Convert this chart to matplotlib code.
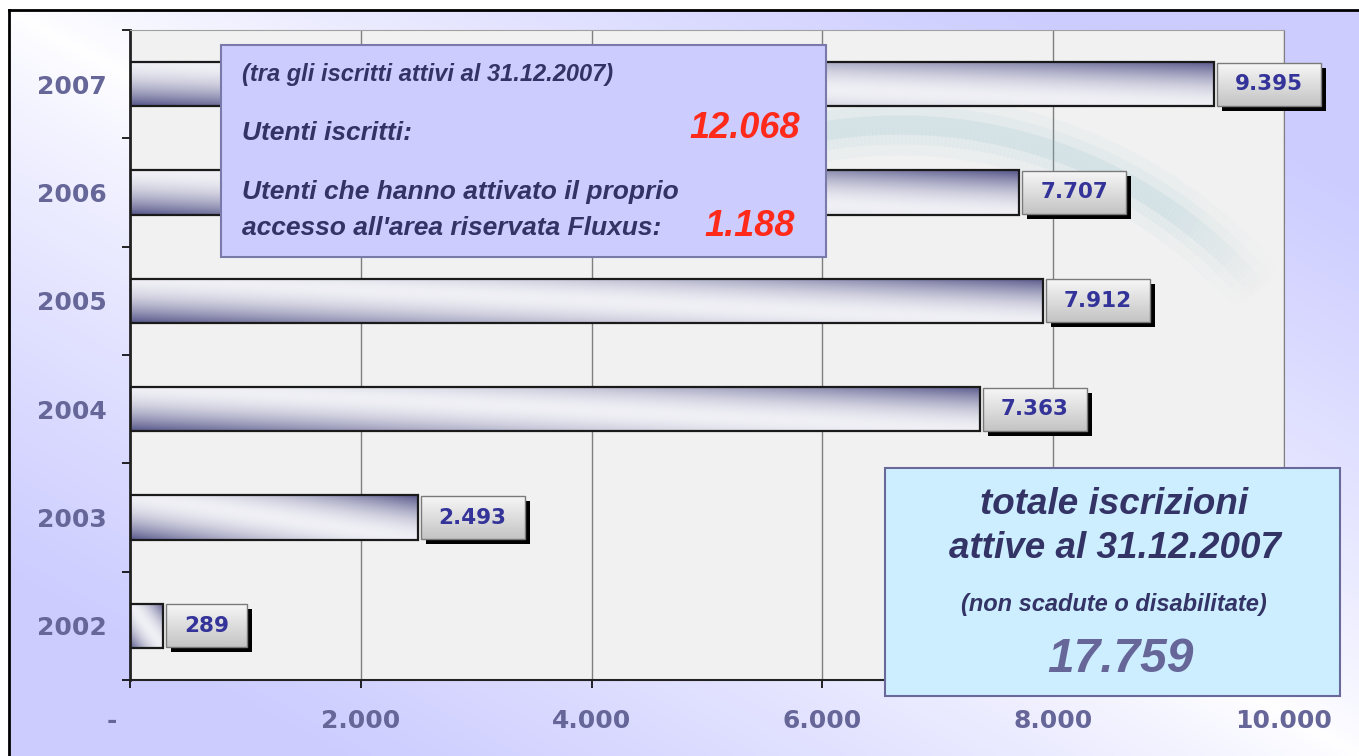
import numpy as np
import matplotlib
matplotlib.use("Agg")
import matplotlib.pyplot as plt
from matplotlib.colors import LinearSegmentedColormap, to_rgba
from matplotlib.patches import Rectangle
from matplotlib.lines import Line2D
from matplotlib.collections import LineCollection
from matplotlib.ticker import FixedLocator, FuncFormatter

# dati
years = ["2002", "2003", "2004", "2005", "2006", "2007"]
iscrizioni = [289, 2493, 7363, 7912, 7707, 9395]
x_ticks = [0, 2000, 4000, 6000, 8000, 10000]

utenti_iscritti = "12.068"
utenti_attivati = "1.188"
totale_attive = "17.759"

W, H = 1359, 756
fig = plt.figure(figsize=(W / 100, H / 100), dpi=100)
fig.patch.set_facecolor("white")


def fx(px):
    return px / W


def fy(py):
    return 1 - py / H


def fmt_it(v):
    return f"{int(v):,}".replace(",", ".")


# sfondo sfumato lavanda
bg = fig.add_axes([fx(9), 0, 1 - fx(9), fy(10)])
bg.set_axis_off()
U, V = np.meshgrid(np.linspace(0, 1, 300), np.linspace(0, 1, 200))
w = np.clip(np.abs(U - V) * 1.3, 0, 1) ** 0.8
lav = np.array([0.8, 0.8, 1.0])
img = np.ones(3) * (1 - w[..., None]) + lav * w[..., None]
bg.imshow(img, extent=[0, 1, 0, 1], origin="upper", aspect="auto", interpolation="bilinear")
bg.set_xlim(0, 1)
bg.set_ylim(0, 1)

# cornice
fig.add_artist(Line2D([fx(9), fx(9)], [0, fy(10)], color="black", lw=2))
fig.add_artist(Line2D([fx(9), 1], [fy(10), fy(10)], color="black", lw=2))

ax = fig.add_axes([fx(130), fy(680), fx(1284) - fx(130), fy(30) - fy(680)])
ax.set_facecolor("#f1f1f1")
ax.set_xlim(0, 10000)
ax.set_ylim(-0.5, 5.5)
ax.set_autoscale_on(False)

# decorazione (onda azzurra che sfuma)
th = np.linspace(np.radians(115), np.radians(40), 150)
cx, cy, r = 900, 597, 472
pxs = cx + r * np.cos(th)
pys = cy - r * np.sin(th)
dx = (pxs - 130) / 1154 * 10000
dy = 5.5 - (pys - 30) / 108.33
pts = np.column_stack([dx, dy]).reshape(-1, 1, 2)
segs = np.concatenate([pts[:-1], pts[1:]], axis=1)
s = np.linspace(0, 1, len(segs))
fade = np.clip(np.minimum(s / 0.15, (1 - s) / 0.2), 0, 1)
for lw, a in [(44, 0.05), (28, 0.08), (14, 0.14)]:
    cols = [to_rgba("#86bccb", a * f) for f in fade]
    ax.add_collection(LineCollection(segs, colors=cols, linewidths=lw, capstyle="butt", zorder=1.5))

# barre con sfumatura
ypos = np.arange(len(years))
bar_h = 0.41
cmap_bar = LinearSegmentedColormap.from_list("bar", ["#efeff5", "#56568a"])
GX, GY = np.meshgrid(np.linspace(0, 1, 240), np.linspace(0, 1, 60))
dark = np.abs(GX + GY - 1) ** 1.8
for y, val in zip(ypos, iscrizioni):
    ax.imshow(dark, extent=[0, val, y - bar_h / 2, y + bar_h / 2], origin="lower",
              cmap=cmap_bar, vmin=0, vmax=1, aspect="auto", interpolation="bilinear", zorder=2)
ax.barh(ypos, iscrizioni, height=bar_h, fill=False, edgecolor="#1a1a1a", linewidth=1.6, zorder=3)

# assi
ax.xaxis.set_major_locator(FixedLocator(x_ticks))
ax.xaxis.set_major_formatter(FuncFormatter(lambda v, p: "-    " if v == 0 else fmt_it(v)))
ax.set_yticks(ypos, years)
ax.set_yticks(np.arange(-0.5, 6, 1), minor=True)
ax.tick_params(axis="y", which="major", length=0, pad=17, labelsize=18, labelcolor="#666699")
ax.tick_params(axis="y", which="minor", length=6, width=1.2, direction="out", color="black")
ax.tick_params(axis="x", length=6, width=1.2, direction="out", pad=15, labelsize=18,
               labelcolor="#666699")
for lab in ax.get_xticklabels() + ax.get_yticklabels():
    lab.set_fontweight("bold")
ax.grid(axis="x", color="#7f7f7f", lw=1)
ax.set_axisbelow(True)
ax.spines["left"].set_color("#222222")
ax.spines["left"].set_linewidth(2)
ax.spines["bottom"].set_color("#222222")
ax.spines["bottom"].set_linewidth(1.5)
ax.spines["top"].set_color("#a0a0a0")
ax.spines["right"].set_color("#7f7f7f")

# etichette valori con riquadro e ombra
txts = []
for y, val in zip(ypos, iscrizioni):
    t = ax.annotate(fmt_it(val), (val, y), xytext=(21 * 0.72, 0), textcoords="offset points",
                    ha="left", va="center", fontsize=15.5, fontweight="bold", color="#333399",
                    zorder=8)
    txts.append(t)

fig.canvas.draw()
rend = fig.canvas.get_renderer()
inv = ax.transData.inverted()
cmap_box = LinearSegmentedColormap.from_list("box", ["#c4c4c4", "#f6f6f6"])
for t, y, val in zip(txts, ypos, iscrizioni):
    bb = t.get_window_extent(rend)
    x_end, yc = ax.transData.transform((val, y))
    x0, x1 = x_end + 3, bb.x1 + 18
    y0, y1 = yc - 21.5, yc + 21.5
    (dx0, dy0), (dx1, dy1) = inv.transform([(x0, y0), (x1, y1)])
    (sx0, sy0), (sx1, sy1) = inv.transform([(x0 + 5, y0 - 5), (x1 + 5, y1 - 5)])
    ax.add_patch(Rectangle((sx0, sy0), sx1 - sx0, sy1 - sy0, facecolor="black",
                           edgecolor="none", zorder=5, clip_on=False))
    im = ax.imshow(np.linspace(0, 1, 40).reshape(-1, 1), extent=[dx0, dx1, dy0, dy1],
                   origin="lower", cmap=cmap_box, aspect="auto", zorder=6)
    im.set_clip_on(False)
    ax.add_patch(Rectangle((dx0, dy0), dx1 - dx0, dy1 - dy0, fill=False, edgecolor="#7a7a7a",
                           lw=1, zorder=7, clip_on=False))
ax.set_xlim(0, 10000)
ax.set_ylim(-0.5, 5.5)

# riquadro utenti
font_box = dict(family="Liberation Sans", weight="bold", style="italic")
fig.add_artist(Rectangle((fx(221), fy(257)), fx(826) - fx(221), fy(45) - fy(257),
                         transform=fig.transFigure, facecolor="#ccccff", edgecolor="#7a7aaa",
                         lw=1.5, zorder=10))
navy = "#333366"
fig.text(fx(242), fy(74), "(tra gli iscritti attivi al 31.12.2007)", ha="left", va="center",
         fontsize=17, color=navy, zorder=11, **font_box)
fig.text(fx(242), fy(133), "Utenti iscritti:", ha="left", va="center", fontsize=19,
         color=navy, zorder=11, **font_box)
fig.text(fx(800), fy(128), utenti_iscritti, ha="right", va="center", fontsize=26,
         color="#ff2a1a", zorder=11, **font_box)
fig.text(fx(242), fy(192), "Utenti che hanno attivato il proprio", ha="left", va="center",
         fontsize=19, color=navy, zorder=11, **font_box)
fig.text(fx(242), fy(228), "accesso all'area riservata Fluxus:", ha="left", va="center",
         fontsize=19, color=navy, zorder=11, **font_box)
fig.text(fx(795), fy(226), utenti_attivati, ha="right", va="center", fontsize=26,
         color="#ff2a1a", zorder=11, **font_box)

# riquadro totale
fig.add_artist(Rectangle((fx(885), fy(696)), fx(1340) - fx(885), fy(468) - fy(696),
                         transform=fig.transFigure, facecolor="#cceeff", edgecolor="#6a6a9a",
                         lw=1.5, zorder=10))
fig.text(fx(1114), fy(505), "totale iscrizioni", ha="center", va="center", fontsize=26.5,
         color=navy, zorder=11, **font_box)
fig.text(fx(1115), fy(549), "attive al 31.12.2007", ha="center", va="center", fontsize=26.5,
         color=navy, zorder=11, **font_box)
fig.text(fx(1114), fy(605), "(non scadute o disabilitate)", ha="center", va="center",
         fontsize=17, color=navy, zorder=11, **font_box)
fig.text(fx(1120), fy(660), totale_attive, ha="center", va="center", fontsize=34.5,
         color="#666699", zorder=11, **font_box)

fig.savefig("out.png", dpi=100)
